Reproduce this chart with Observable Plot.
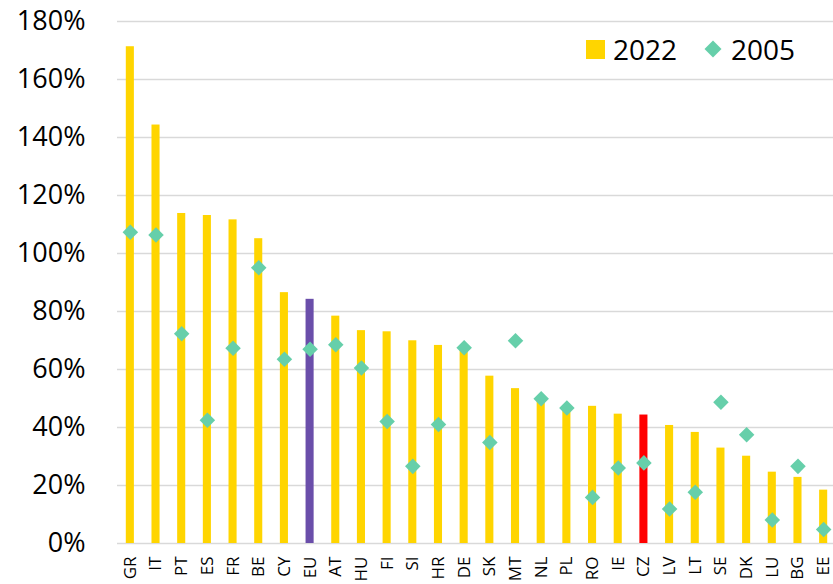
<!DOCTYPE html>
<html>
<head>
<meta charset="utf-8">
<script src="https://cdn.jsdelivr.net/npm/d3@7"></script>
<script src="https://cdn.jsdelivr.net/npm/@observablehq/plot@0.6"></script>
<style>
  html, body { margin: 0; padding: 0; background: #fff; }
  #wrap { position: relative; width: 833px; height: 584px; font-family: "Open Sans", sans-serif; }
  #legend { position: absolute; top: 30px; left: 586px; display: flex; align-items: center; font-size: 28px; color: #000; }
  .sw { display: inline-block; width: 19px; height: 19px; background: #FFD500; margin-right: 8px; }
  .dm { display: inline-block; width: 12px; height: 12px; background: #66CFAA; transform: rotate(45deg); margin: 0 12px 0 30px; }
</style>
</head>
<body>
<div id="wrap"><div id="legend"><span class="sw"></span><span>2022</span><span class="dm"></span><span>2005</span></div></div>
<script>
const countries = ["GR","IT","PT","ES","FR","BE","CY","EU","AT","HU","FI","SI","HR","DE","SK","MT","NL","PL","RO","IE","CZ","LV","LT","SE","DK","LU","BG","EE"];
const values2022 = [171.3,144.3,113.8,113.1,111.6,105.1,86.5,84.2,78.4,73.4,73.0,69.9,68.3,66.6,57.7,53.4,49.4,47.6,47.3,44.6,44.3,40.7,38.3,32.9,30.1,24.6,22.8,18.4];
const values2005 = [107.3,106.4,72.3,42.5,67.3,95.1,63.5,67.0,68.5,60.5,42.1,26.6,41.0,67.5,34.8,69.9,49.9,46.7,15.9,26.0,27.8,11.9,17.7,48.7,37.5,8.1,26.6,4.8];
const yTicks = [0,20,40,60,80,100,120,140,160,180];
const highlight = {EU: "#6A4EAA", CZ: "#FF0000"};

const data = countries.map((c, i) => ({country: c, v2022: values2022[i], v2005: values2005[i]}));

const chart = Plot.plot({
  width: 833,
  height: 584,
  marginTop: 21,
  marginBottom: 41,
  marginLeft: 117,
  marginRight: -3,
  style: {fontFamily: "Open Sans, sans-serif", background: "transparent", overflow: "visible"},
  x: {domain: countries, padding: 0, round: false, label: null},
  y: {domain: [0, 180], label: null},
  marks: [
    Plot.ruleY(yTicks, {stroke: "#d9d9d9", strokeWidth: 1.5}),
    Plot.barY(data, {x: "country", y: "v2022", insetLeft: 8.8, insetRight: 8.8, fill: d => highlight[d.country] || "#FFD500"}),
    Plot.dot(data, {x: "country", y: "v2005", symbol: "diamond2", r: 7, fill: "#66CFAA", stroke: "none"}),
    Plot.axisY(yTicks, {tickSize: 0, tickPadding: 32, tickFormat: d => d + "%", fontSize: 27, fill: "#000", label: null}),
    Plot.axisX({tickSize: 0, tickRotate: -90, tickPadding: 13, fontSize: 17, fill: "#000", label: null})
  ]
});
document.getElementById("wrap").prepend(chart);
chart.style.position = "absolute";
chart.style.left = "0";
chart.style.top = "0";
</script>
</body>
</html>
